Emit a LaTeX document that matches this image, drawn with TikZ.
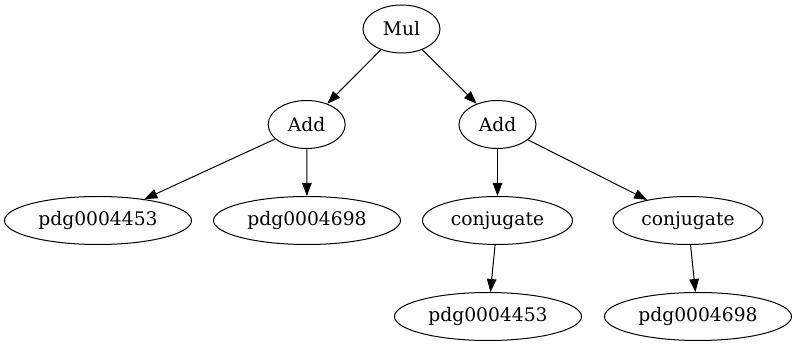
\documentclass[tikz,border=0pt]{standalone}
\usepackage{fontspec}
\setmainfont{DejaVu Serif}
\usetikzlibrary{shapes.geometric,arrows.meta}

\begin{document}
\begin{tikzpicture}[x=1pt,y=-1pt,
    opnode/.style={draw,ellipse,line width=1pt,inner sep=0pt,minimum height=48pt,
      minimum width=77pt,font=\fontsize{18.7}{22}\selectfont},
    fnnode/.style={opnode,minimum width=150pt},
    leafnode/.style={opnode,minimum width=187pt},
    arr/.style={-{Triangle[length=13pt,width=9.5pt]},line width=1pt}]
  \useasboundingbox (0,0) rectangle (796,347);
  \node[opnode] (mul) at (401.5,29) {Mul};
  \node[opnode] (addl) at (306.7,124.5) {Add}; \node[opnode] (addr) at (497.5,124.5) {Add};
  \node[leafnode] (pdgl) at (98,220.5) {pdg0004453};
  \node[leafnode] (pdgm) at (307,220.5) {pdg0004698};
  \node[fnnode] (conjl) at (497.5,220.5) {conjugate};
  \node[fnnode] (conjr) at (688,220.5) {conjugate};
  \node[leafnode] (pdgb) at (488,316.5) {pdg0004453};
  \node[leafnode] (pdgc) at (698,316.5) {pdg0004698};
  \foreach \a/\b in {mul/addl,mul/addr,addl/pdgl,addl/pdgm,addr/conjl,addr/conjr,
    conjl/pdgb,conjr/pdgc} { \draw[arr] (\a) -- (\b); }
\end{tikzpicture}
\end{document}
